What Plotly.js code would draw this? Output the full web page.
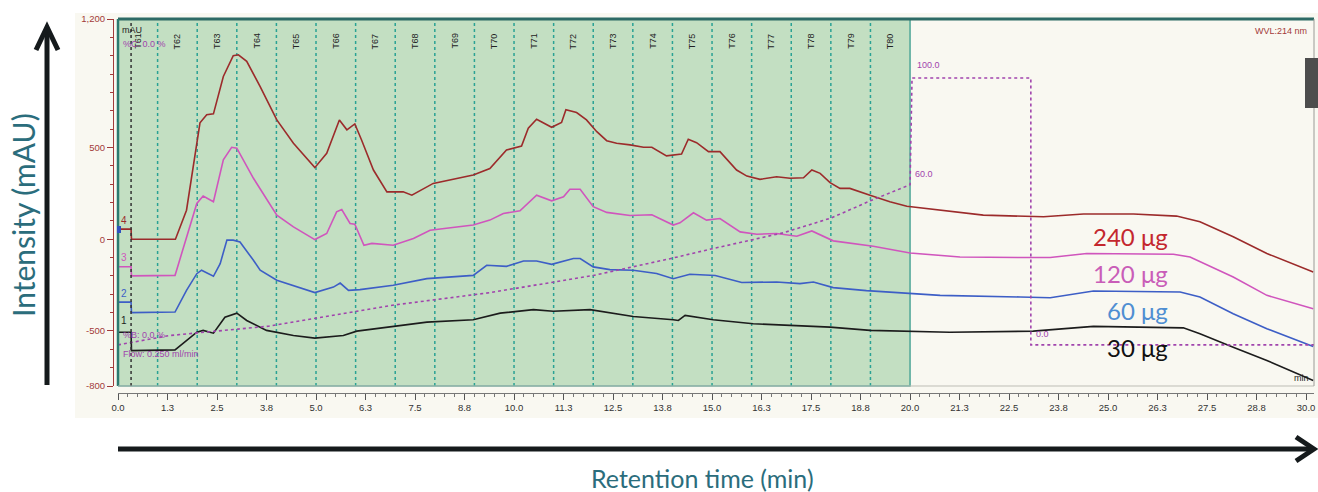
<!DOCTYPE html>
<html><head><meta charset="utf-8">
<script src="https://cdn.plot.ly/plotly-3.0.1.min.js"></script>
<style>html,body{margin:0;padding:0;background:#fff;} #chart{width:1318px;height:492px;}</style>
</head><body><div id="chart"></div>
<script>
// ---------------- DATA ----------------
const seriesNames = ['240 μg', '120 μg', '60 μg', '30 μg'];
const traceNumbers = ['4', '3', '2', '1'];

const time240 = [0, 0.33, 0.34, 1.45, 1.73, 1.94, 2.07, 2.24, 2.41, 2.66, 2.91, 3.04, 3.25, 3.59, 3.92, 4.01, 4.43, 4.97, 5.27, 5.59, 5.78, 5.98, 6.15, 6.45, 6.79, 7.2, 7.42, 7.96, 8.97, 9.39, 9.81, 10.19, 10.36, 10.57, 10.95, 11.2, 11.31, 11.58, 11.83, 12.09, 12.34, 12.59, 12.93, 13.27, 13.48, 13.85, 14.23, 14.4, 14.61, 14.91, 15.2, 15.62, 15.88, 16.21, 16.63, 16.97, 17.31, 17.52, 17.73, 17.98, 18.23, 18.48, 18.99, 19.49, 19.92, 20.84, 21.85, 23.37, 24.38, 25.64, 26.73, 27.32, 28.16, 29.01, 30.18];
const int240 = [55, 55, 0, 0, 158, 450, 634, 678, 683, 887, 1000, 1005, 969, 832, 687, 650, 523, 390, 468, 650, 596, 628, 541, 377, 258, 258, 240, 304, 350, 385, 486, 508, 605, 654, 610, 636, 705, 690, 650, 586, 537, 523, 514, 501, 501, 454, 464, 545, 526, 477, 477, 377, 344, 326, 340, 332, 335, 377, 359, 308, 277, 277, 240, 204, 180, 158, 131, 122, 137, 137, 126, 95, 13, -78, -179];

const time120 = [0, 0.33, 0.34, 1.44, 1.48, 1.73, 1.99, 2.15, 2.41, 2.66, 2.87, 3.0, 3.42, 4.01, 4.43, 4.97, 5.27, 5.52, 5.65, 5.86, 5.98, 6.21, 6.41, 6.95, 7.46, 7.88, 8.97, 9.39, 9.73, 10.15, 10.36, 10.57, 10.95, 11.25, 11.41, 11.67, 12.0, 12.34, 12.93, 13.48, 14.02, 14.19, 14.53, 14.86, 15.2, 15.71, 16.13, 16.63, 17.14, 17.52, 18.06, 18.48, 19.07, 20.0, 21.26, 22.78, 23.54, 24.46, 26.65, 27.07, 28.16, 29.01, 30.18];
const int120 = [-150, -150, -200, -197, -169, 13, 195, 235, 204, 432, 501, 496, 332, 131, 67, -2, 31, 149, 162, 86, 82, -33, -23, -33, 4, 49, 77, 104, 140, 155, 195, 240, 209, 231, 272, 272, 177, 146, 129, 133, 77, 89, 144, 104, 113, 40, 27, 31, 16, 45, -9, -20, -38, -75, -97, -100, -100, -78, -82, -97, -206, -306, -379];

const time60 = [0, 0.33, 0.34, 1.44, 1.73, 1.99, 2.11, 2.41, 2.58, 2.75, 2.91, 3.08, 3.42, 3.59, 4.01, 4.97, 5.44, 5.61, 5.82, 6.11, 6.95, 7.8, 8.97, 9.31, 9.81, 10.24, 10.57, 10.95, 11.5, 11.67, 12.0, 12.42, 13.01, 13.6, 14.02, 14.44, 15.08, 15.75, 16.63, 17.22, 17.56, 18.06, 18.9, 20.0, 20.76, 22.78, 23.54, 24.63, 26.82, 27.32, 28.16, 29.01, 30.18];
const int60 = [-343, -343, -400, -397, -279, -188, -169, -202, -133, -5, -5, -15, -115, -169, -224, -291, -261, -239, -279, -275, -251, -215, -197, -142, -148, -119, -119, -137, -105, -105, -151, -166, -169, -187, -215, -191, -198, -236, -233, -242, -233, -264, -280, -297, -306, -315, -319, -282, -288, -315, -406, -488, -585];

const time30 = [0, 0.33, 0.34, 1.44, 1.99, 2.15, 2.41, 2.7, 3.0, 3.25, 3.75, 4.43, 4.97, 5.69, 6.03, 6.53, 7.8, 8.97, 9.65, 10.49, 10.99, 11.92, 13.01, 14.02, 14.15, 14.32, 15.03, 16.04, 17.01, 17.98, 18.99, 19.58, 21.0, 23.11, 24.63, 26.9, 27.32, 28.16, 29.01, 30.18];
const int30 = [-507, -507, -607, -603, -507, -497, -512, -425, -403, -443, -497, -525, -539, -525, -501, -488, -452, -439, -403, -384, -393, -384, -421, -439, -443, -415, -439, -461, -470, -479, -497, -501, -507, -501, -475, -483, -515, -589, -661, -770];

// gradient (%B)
const gradTime = [0, 1.3, 3.8, 5, 7, 9.4, 12, 14, 15, 16.8, 18, 19, 20, 20.05, 23.05, 23.05, 30.2];
const gradPct  = [0, 3.5, 7, 10, 15, 19.6, 26, 32.5, 36, 42, 47.5, 54, 60, 100, 100, 0, 0];

// fractions
const fractionNames = ['T61','T62','T63','T64','T65','T66','T67','T68','T69','T70','T71','T72','T73','T74','T75','T76','T77','T78','T79','T80'];
const fractionStart = [0,1,2,3,4,5,6,7,8,9,10,11,12,13,14,15,16,17,18,19];
const fractionEnd   = [1,2,3,4,5,6,7,8,9,10,11,12,13,14,15,16,17,18,19,20];
const injectionTime = 0.33;

// axes ticks
const xTickVals = [0,1.25,2.5,3.75,5,6.25,7.5,8.75,10,11.25,12.5,13.75,15,16.25,17.5,18.75,20,21.25,22.5,23.75,25,26.25,27.5,28.75,30];
const xTickText = ['0.0','1.3','2.5','3.8','5.0','6.3','7.5','8.8','10.0','11.3','12.5','13.8','15.0','16.3','17.5','18.8','20.0','21.3','22.5','23.8','25.0','26.3','27.5','28.8','30.0'];
const yTickVals = [-800,-500,0,500,1200];
const yTickText = ['-800','-500','0','500','1,200'];

// ---------------- STYLE ----------------
const W = 1318, H = 492;
const px = x => x / W, py = y => 1 - y / H;
const lineColors  = ['#9c2b2b', '#d055bd', '#3d5ec6', '#1c1c1c'];
const labelColors = ['#c4272e', '#c95db8', '#4f8ed2', '#111111'];
const purple = '#a144ad';
const times = [time240, time120, time60, time30];
const ints  = [int240, int120, int60, int30];

const traces = times.map((t, i) => ({
  x: t, y: ints[i], type: 'scatter', mode: 'lines', name: seriesNames[i],
  line: {color: lineColors[i], width: 1.6}, hoverinfo: 'skip'
}));
traces.push({
  x: gradTime, y: gradPct, type: 'scatter', mode: 'lines', yaxis: 'y2', name: '%B',
  line: {color: purple, width: 1.6, dash: 'dot'}, hoverinfo: 'skip'
});

const shapes = [];
// cream panel behind chart
shapes.push({type: 'rect', xref: 'paper', yref: 'paper', x0: px(75), x1: 1, y0: py(418), y1: py(13),
  fillcolor: '#f9f8f1', line: {width: 0}, layer: 'below'});
// collection window (green)
shapes.push({type: 'rect', xref: 'x', yref: 'y domain', x0: fractionStart[0], x1: fractionEnd[fractionEnd.length - 1], y0: 0, y1: 1,
  fillcolor: '#c3dfc2', line: {color: '#4fa698', width: 1.5}, layer: 'below'});
// fraction boundaries
fractionStart.slice(1).forEach(v => shapes.push({type: 'line', xref: 'x', yref: 'y domain', x0: v, x1: v, y0: 0, y1: 1,
  line: {color: '#2aa294', width: 1.5, dash: 'dot'}, layer: 'below'}));
// injection marker
shapes.push({type: 'line', xref: 'x', yref: 'y domain', x0: injectionTime, x1: injectionTime, y0: 0, y1: 1,
  line: {color: '#333333', width: 1.5, dash: 'dot'}});
// frame
shapes.push({type: 'line', xref: 'x domain', yref: 'y domain', x0: 0, x1: 1, y0: 1, y1: 1, line: {color: '#2d6a65', width: 3}});
shapes.push({type: 'line', xref: 'x domain', yref: 'y domain', x0: 0, x1: 0, y0: 0, y1: 1, line: {color: '#2d7a70', width: 2.5}});
shapes.push({type: 'line', xref: 'x domain', yref: 'y domain', x0: 0, x1: 1, y0: 0, y1: 0, line: {color: '#bdbdb5', width: 1}});
shapes.push({type: 'line', xref: 'x domain', yref: 'y domain', x0: 1, x1: 1, y0: 0, y1: 1, line: {color: '#9a9a96', width: 1}});
// side tab
shapes.push({type: 'rect', xref: 'paper', yref: 'paper', x0: px(1305), x1: 1, y0: py(108), y1: py(58),
  fillcolor: '#4d4d4d', line: {width: 0}});
// small marker at start of trace 4
shapes.push({type: 'rect', xref: 'paper', yref: 'paper', x0: px(117), x1: px(121), y0: py(233), y1: py(226),
  fillcolor: '#3050c0', line: {width: 0}});
// axis arrows (decoration)
const arrowCol = '#151a1c';
shapes.push({type: 'line', xref: 'paper', yref: 'paper', x0: px(47), x1: px(47), y0: py(385), y1: py(28), line: {color: arrowCol, width: 5}});
shapes.push({type: 'path', xref: 'paper', yref: 'paper',
  path: `M ${px(36)} ${py(50)} L ${px(47)} ${py(27)} L ${px(58)} ${py(50)}`, line: {color: arrowCol, width: 5}});
shapes.push({type: 'line', xref: 'paper', yref: 'paper', x0: px(118), x1: px(1312), y0: py(449), y1: py(449), line: {color: arrowCol, width: 5}});
shapes.push({type: 'path', xref: 'paper', yref: 'paper',
  path: `M ${px(1296)} ${py(437)} L ${px(1314)} ${py(449)} L ${px(1296)} ${py(461)}`, line: {color: arrowCol, width: 5}});

const annotations = [];
// fraction labels
fractionNames.forEach((n, i) => annotations.push({
  x: (fractionStart[i] + fractionEnd[i]) / 2, y: py(31), xref: 'x', yref: 'paper', text: n,
  showarrow: false, textangle: -90, xanchor: 'center', font: {family: 'Liberation Sans, Arial', size: 9, color: '#222'}
}));
// series numbers
traceNumbers.forEach((n, i) => annotations.push({
  x: 0.02, y: ints[i][0], xref: 'x', yref: 'y', text: n, showarrow: false, xanchor: 'left', yshift: i === 3 ? 12 : 9,
  font: {family: 'Liberation Sans, Arial', size: 10, color: lineColors[i]}
}));
// concentration labels
const labelY = [236, 273, 310, 347];
seriesNames.forEach((n, i) => annotations.push({
  x: px(1170), y: py(labelY[i]), xref: 'paper', yref: 'paper', text: n, showarrow: false, xanchor: 'right', yanchor: 'middle',
  font: {family: 'Lato, Open Sans, sans-serif', size: 24, color: labelColors[i]}
}));
const small = (text, x, y, color, anchor) => ({x: px(x), y: py(y), xref: 'paper', yref: 'paper', text: text,
  showarrow: false, xanchor: anchor || 'left', yanchor: 'middle', font: {family: 'Liberation Sans, Arial', size: 9, color: color}});
annotations.push(small('mAU', 120, 30, '#222'));
annotations.push(small('%C: 0.0 %', 121, 44, purple));
annotations.push(small('%B: 0.0 %', 121, 335, purple));
annotations.push(small('Flow: 0.250 ml/min', 121, 354, purple));
annotations.push(small('WVL:214 nm', 1309, 31, '#a33a3a', 'right'));
annotations.push(small('min', 1311, 378, '#222', 'right'));
annotations.push({x: gradTime[13], y: gradPct[13], xref: 'x', yref: 'y2', text: '100.0', showarrow: false, xanchor: 'left', xshift: 3, yshift: 13,
  font: {family: 'Liberation Sans, Arial', size: 9, color: purple}});
annotations.push({x: gradTime[12], y: gradPct[12], xref: 'x', yref: 'y2', text: '60.0', showarrow: false, xanchor: 'left', xshift: 3, yshift: 11,
  font: {family: 'Liberation Sans, Arial', size: 9, color: purple}});
annotations.push({x: gradTime[15], y: gradPct[15], xref: 'x', yref: 'y2', text: '0.0', showarrow: false, xanchor: 'left', xshift: 3, yshift: 11,
  font: {family: 'Liberation Sans, Arial', size: 9, color: purple}});
// axis titles
annotations.push({x: px(23), y: py(215), xref: 'paper', yref: 'paper', text: 'Intensity (mAU)', showarrow: false, textangle: -90,
  xanchor: 'center', yanchor: 'middle', font: {family: 'Lato, Open Sans, sans-serif', size: 30, color: '#2b6d7c'}});
annotations.push({x: px(702), y: py(478), xref: 'paper', yref: 'paper', text: 'Retention time (min)', showarrow: false,
  xanchor: 'center', yanchor: 'middle', font: {family: 'Lato, Open Sans, sans-serif', size: 25, color: '#2b6d7c'}});

const layout = {
  width: W, height: H, margin: {l: 0, r: 0, t: 0, b: 0},
  paper_bgcolor: '#ffffff', plot_bgcolor: '#faf9f2', showlegend: false,
  xaxis: {domain: [px(118), px(1314)], range: [0, 30.2], anchor: 'free', position: py(393),
    tickvals: xTickVals, ticktext: xTickText, ticks: 'outside', ticklen: 6, tickcolor: '#555', tickwidth: 1,
    showline: true, linecolor: '#777', linewidth: 1, showgrid: false, zeroline: false,
    minor: {dtick: 0.25, ticklen: 3, tickcolor: '#777', ticks: 'outside', showgrid: false},
    tickfont: {family: 'Liberation Sans, Arial', size: 9.5, color: '#333'}},
  yaxis: {domain: [py(386), py(19)], range: [-800, 1200], anchor: 'free', position: px(113),
    tickvals: yTickVals, ticktext: yTickText, ticks: 'outside', ticklen: 6, tickcolor: '#a33a3a',
    showline: true, linecolor: '#a33a3a', linewidth: 1, showgrid: false, zeroline: false,
    minor: {dtick: 100, ticklen: 3, tickcolor: '#a33a3a', ticks: 'outside', showgrid: false},
    tickfont: {family: 'Liberation Sans, Arial', size: 9.5, color: '#a33a3a'}},
  yaxis2: {overlaying: 'y', domain: [py(386), py(19)], range: [-15.4, 122.1], visible: false, anchor: 'x'},
  shapes: shapes, annotations: annotations
};
Plotly.newPlot('chart', traces, layout, {staticPlot: true});
</script></body></html>
